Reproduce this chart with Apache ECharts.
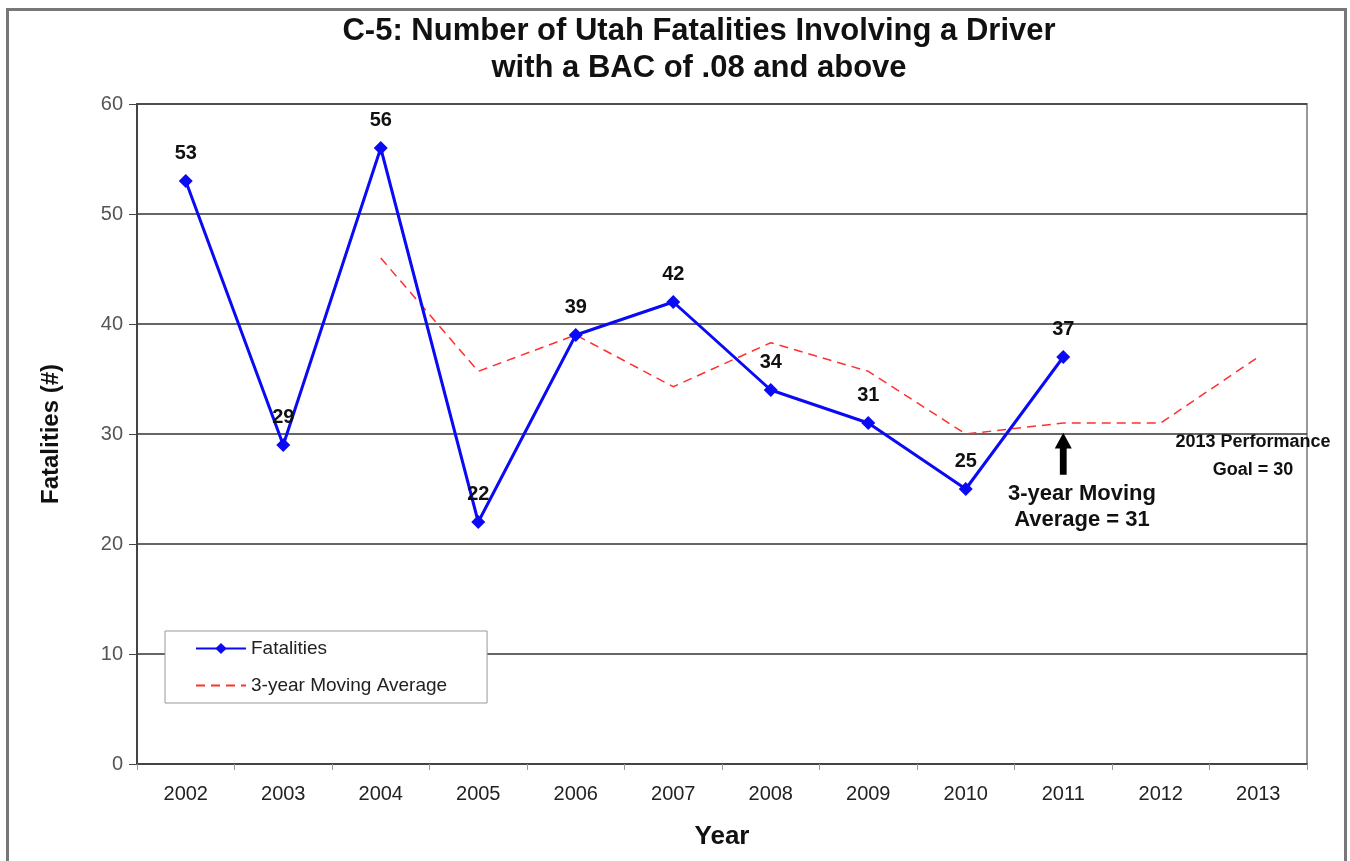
<!DOCTYPE html>
<html lang="en">
<head>
    <meta charset="UTF-8">
    <title>C-5 Utah BAC fatalities</title>
    <script src="https://cdn.jsdelivr.net/npm/echarts@6/dist/echarts.min.js"></script>
    <style>
        html, body { margin: 0; padding: 0; background: #fff; }
        #chart { width: 1350px; height: 861px; }
    </style>
</head>
<body>
<div id="chart"></div>
<script type="text/javascript">
    var years = ['2002', '2003', '2004', '2005', '2006', '2007', '2008', '2009', '2010', '2011', '2012', '2013'];
    var fatalities = [53, 29, 56, 22, 39, 42, 34, 31, 25, 37, null, null];
    var movingAvg = [null, null, 46, 35.7, 39, 34.3, 38.3, 35.7, 30, 31, 31, 37];
    var yTicks = [0, 10, 20, 30, 40, 50, 60];

    var myChart = echarts.init(document.getElementById('chart'));
    var font = '"Liberation Sans", Arial, sans-serif';
    var option = {
        backgroundColor: '#fff',
        animation: false,
        title: {
            text: 'C-5: Number of Utah Fatalities Involving a Driver\nwith a BAC of .08 and above',
            left: 694,
            textAlign: 'center',
            top: 8,
            textStyle: { fontFamily: font, fontSize: 31, fontWeight: 'bold', color: '#111', lineHeight: 37 }
        },
        legend: {
            orient: 'vertical',
            left: 165,
            top: 631,
            padding: [8, 40, 8, 30],
            itemWidth: 50,
            itemHeight: 14,
            itemGap: 18,
            backgroundColor: '#fff',
            borderColor: '#999',
            borderWidth: 1,
            textStyle: { fontFamily: font, fontSize: 19, color: '#222' },
            data: [
                { name: 'Fatalities' },
                { name: '3-year Moving Average', itemStyle: { opacity: 0 } }
            ]
        },
        grid: {
            left: 137, right: 43, top: 104, bottom: 97,
            show: true, borderColor: '#999', borderWidth: 2
        },
        xAxis: {
            type: 'category',
            data: years,
            boundaryGap: true,
            name: 'Year',
            nameLocation: 'middle',
            nameGap: 60,
            nameTextStyle: { fontFamily: font, fontSize: 26, fontWeight: 'bold', color: '#111' },
            axisLine: { lineStyle: { color: '#444', width: 2 } },
            axisTick: { show: true, length: 6, lineStyle: { color: '#999' } },
            axisLabel: { fontFamily: font, fontSize: 20, color: '#222', margin: 20 }
        },
        yAxis: {
            type: 'value',
            min: yTicks[0],
            max: yTicks[yTicks.length - 1],
            interval: 10,
            name: 'Fatalities (#)',
            nameLocation: 'middle',
            nameGap: 74,
            nameTextStyle: { fontFamily: font, fontSize: 24, fontWeight: 'bold', color: '#111' },
            axisLine: { show: true, lineStyle: { color: '#444', width: 2 } },
            axisTick: { show: true, length: 8, inside: false, lineStyle: { color: '#444' } },
            axisLabel: { fontFamily: font, fontSize: 20, color: '#555', margin: 14 },
            splitLine: { lineStyle: { color: '#333', width: 1.5 } }
        },
        series: [
            {
                name: 'Fatalities',
                type: 'line',
                data: fatalities,
                symbol: 'diamond',
                symbolSize: 14,
                connectNulls: false,
                z: 3,
                lineStyle: { color: '#0a0af5', width: 3 },
                itemStyle: { color: '#0a0af5' },
                label: {
                    show: true,
                    position: 'top',
                    distance: 11,
                    fontFamily: font,
                    fontSize: 20,
                    fontWeight: 'bold',
                    color: '#111'
                }
            },
            {
                name: '3-year Moving Average',
                type: 'line',
                data: movingAvg,
                symbol: 'none',
                z: 2,
                lineStyle: { color: '#ff3030', width: 1.5, type: [9, 6] },
                itemStyle: { color: '#ff3030' },
                markPoint: {
                    silent: true,
                    symbol: 'path://M5,0 L10,6 L7,6 L7,16 L3,16 L3,6 L0,6 Z',
                    symbolKeepAspect: false,
                    symbolSize: [17, 42],
                    itemStyle: { color: '#000' },
                    label: { show: false },
                    data: [{ coord: ['2011', 28.2] }]
                }
            }
        ],
        graphic: [
            {
                type: 'rect',
                left: 5, top: 7,
                shape: { width: 1338, height: 880 },
                style: { fill: 'none', stroke: '#777', lineWidth: 3 },
                silent: true
            },
            {
                type: 'text',
                x: 1082, y: 481,
                style: {
                    text: '3-year Moving\nAverage = 31',
                    align: 'center',
                    fontFamily: font, fontSize: 22, fontWeight: 'bold',
                    fill: '#111', lineHeight: 26
                }
            },
            {
                type: 'text',
                x: 1253, y: 428,
                style: {
                    text: '2013 Performance\nGoal = 30',
                    align: 'center',
                    fontFamily: font,
                    fontSize: 18, fontWeight: 'bold',
                    fill: '#111', lineHeight: 28
                }
            }
        ]
    };

    myChart.setOption(option);
</script>
</body>
</html>
